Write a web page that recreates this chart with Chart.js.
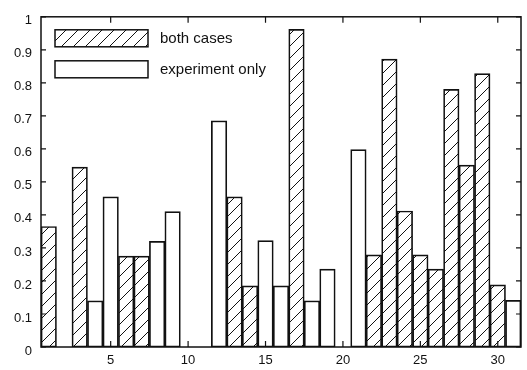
<!DOCTYPE html>
<html>
<head>
<meta charset="utf-8">
<script src="https://cdn.jsdelivr.net/npm/chart.js@4"></script>
<style>
html, body { margin: 0; padding: 0; background: #fff; }
#wrap { width: 527px; height: 370px; }
</style>
</head>
<body>
<div id="wrap"><canvas id="chart" width="527" height="370"></canvas></div>
<script>
// --- values --------------------------------------------------------------
var positions = [];
for (var i = 1; i <= 31; i++) positions.push(String(i));

var bothCases = [0.365, null, 0.545, null, null, 0.275, 0.275, null, null, null,
                 null, null, 0.455, 0.185, null, null, 0.962, null, null, null,
                 null, 0.279, 0.872, 0.412, 0.279, 0.236, 0.78, 0.551, 0.828, 0.188,
                 null];
var experimentOnly = [null, null, null, 0.14, 0.455, null, null, 0.32, 0.41, null,
                      null, 0.685, null, null, 0.322, 0.185, null, 0.14, 0.236, null,
                      0.598, null, null, null, null, null, null, null, null, null,
                      0.141];
var seriesNames = ["both cases", "experiment only"];
var xTickLabels = ["5", "10", "15", "20", "25", "30"];
var yTickValues = [0, 0.1, 0.2, 0.3, 0.4, 0.5, 0.6, 0.7, 0.8, 0.9, 1];

var INK = "#111";
var FONT = "'Liberation Sans', Arial, sans-serif";

function makeHatch() {
    var c = document.createElement("canvas");
    c.width = 12; c.height = 12;
    var g = c.getContext("2d");
    g.fillStyle = "#fff";
    g.fillRect(0, 0, 12, 12);
    g.strokeStyle = INK;
    g.lineWidth = 1;
    g.beginPath();
    g.moveTo(0, 12); g.lineTo(12, 0);
    g.moveTo(-2, 2); g.lineTo(2, -2);
    g.moveTo(10, 14); g.lineTo(14, 10);
    g.stroke();
    return g.createPattern(c, "repeat");
}

var hatch = makeHatch();

// inward ticks, frame and the boxed legend inside the plot
var frameAndLegend = {
    id: "frameAndLegend",
    afterDraw: function(chart) {
        var ctx = chart.ctx, a = chart.chartArea;
        var xs = chart.scales.x, ys = chart.scales.y;
        ctx.save();
        ctx.strokeStyle = INK;
        ctx.lineWidth = 1.2;
        ctx.beginPath();
        yTickValues.forEach(function(v) {
            var py = ys.getPixelForValue(v);
            ctx.moveTo(a.left, py); ctx.lineTo(a.left + 5, py);
            ctx.moveTo(a.right, py); ctx.lineTo(a.right - 5, py);
        });
        xTickLabels.forEach(function(lbl) {
            var px = xs.getPixelForValue(positions.indexOf(lbl));
            ctx.moveTo(px, a.top); ctx.lineTo(px, a.top + 6);
            ctx.moveTo(px, a.bottom); ctx.lineTo(px, a.bottom - 6);
        });
        ctx.stroke();

        ctx.lineWidth = 1.5;
        ctx.strokeRect(a.left, a.top, a.right - a.left, a.bottom - a.top);

        // legend
        var fills = [hatch, "#fff"];
        ctx.font = "15px " + FONT;
        ctx.textBaseline = "middle";
        seriesNames.forEach(function(name, k) {
            var bx = a.left + 14, by = a.top + 13 + k * 31;
            ctx.fillStyle = fills[k];
            ctx.fillRect(bx, by, 93, 17);
            ctx.strokeRect(bx, by, 93, 17);
            ctx.fillStyle = INK;
            ctx.fillText(name, a.left + 119, by + 9);
        });
        ctx.restore();
    }
};

var ctx = document.getElementById("chart").getContext("2d");
new Chart(ctx, {
    type: "bar",
    data: {
        labels: positions,
        datasets: [
            {
                label: seriesNames[0],
                data: bothCases,
                backgroundColor: hatch,
                borderColor: INK,
                borderWidth: 1.7,
                borderSkipped: false
            },
            {
                label: seriesNames[1],
                data: experimentOnly,
                backgroundColor: "#fff",
                borderColor: INK,
                borderWidth: 1.7,
                borderSkipped: false
            }
        ]
    },
    options: {
        responsive: false,
        animation: false,
        layout: { padding: { top: 8, right: 6, left: 0, bottom: 0 } },
        datasets: {
            bar: { grouped: false, barPercentage: 1, categoryPercentage: 1 }
        },
        plugins: {
            legend: { display: false },
            tooltip: { enabled: false }
        },
        scales: {
            x: {
                offset: true,
                grid: { display: false, drawTicks: false },
                border: { display: false },
                ticks: {
                    autoSkip: false,
                    maxRotation: 0,
                    padding: 6,
                    color: INK,
                    font: { family: FONT, size: 13 },
                    callback: function(val, idx) {
                        var lbl = positions[idx];
                        return xTickLabels.indexOf(lbl) >= 0 ? lbl : null;
                    }
                },
                afterFit: function(s) { s.height = 23; }
            },
            y: {
                min: 0,
                max: 1,
                grid: { display: false, drawTicks: false },
                border: { display: false },
                ticks: {
                    stepSize: 0.1,
                    padding: 9,
                    labelOffset: 4,
                    color: INK,
                    font: { family: FONT, size: 13 },
                    callback: function(v) { return String(Number(v.toFixed(1))); }
                },
                afterFit: function(s) { s.width = 41; }
            }
        }
    },
    plugins: [frameAndLegend]
});
</script>
</body>
</html>
